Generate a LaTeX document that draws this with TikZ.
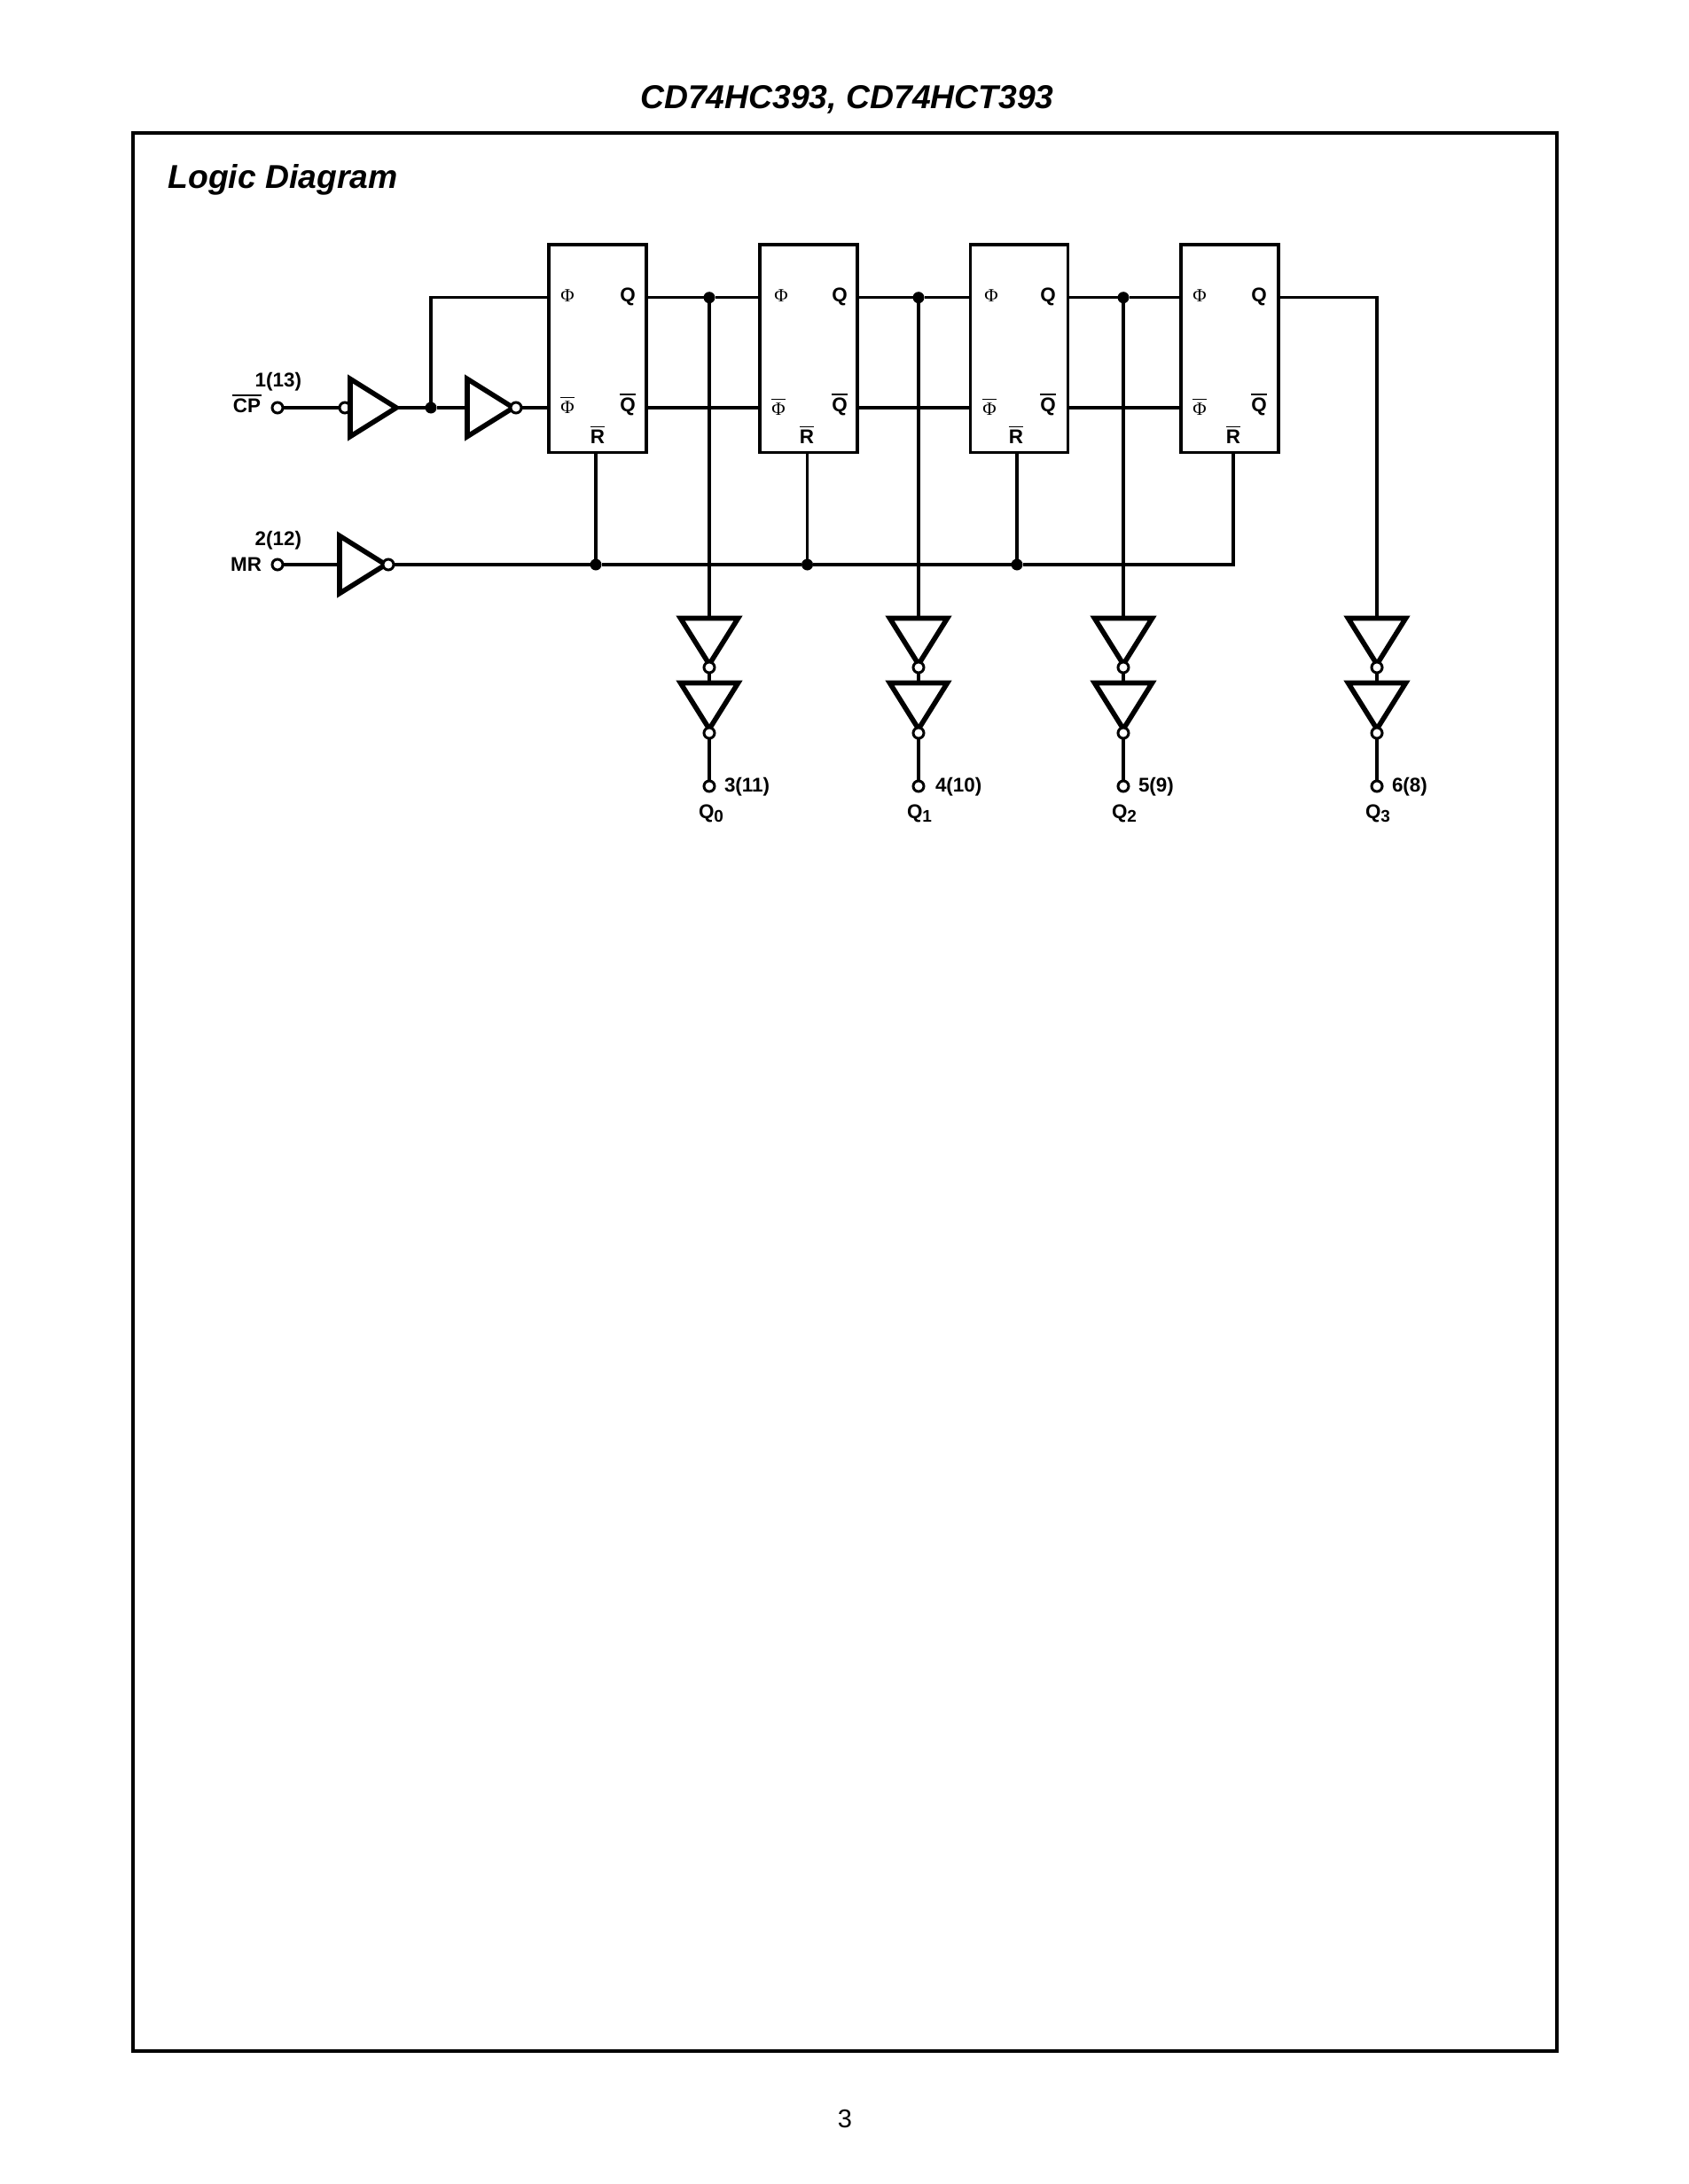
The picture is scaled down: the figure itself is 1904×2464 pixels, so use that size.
\documentclass[tikz,border=0pt]{standalone}
\usepackage{fontspec}
\setmainfont{Liberation Sans}
\newfontfamily\phifont{Liberation Serif}
\usetikzlibrary{shapes.geometric}
\newcommand{\barred}[2][0pt]{\vbox{\hrule height 1.2pt\kern 2.8pt\hbox{\kern#1#2\kern#1}}}
\newcommand{\Qsub}[1]{Q\raisebox{-4pt}{\fontsize{19}{20}\selectfont #1}}
\tikzset{
  x=1pt,y=-1pt,
  every node/.style={inner sep=0pt,outer sep=0pt},
  frame/.style={draw,line width=3.2pt},
  wire/.style={line width=3.3pt,line cap=butt,line join=miter},
  ff/.style={draw,line width=3.4pt,fill=white,rectangle,minimum width=110pt,minimum height=234.5pt},
  gateR/.style={draw,line width=5.6pt,fill=white,isosceles triangle,isosceles triangle stretches,minimum height=52pt,minimum width=65pt,anchor=apex,line join=miter},
  gateD/.style={gateR,shape border rotate=-90},
  bub/.style={circle,draw,fill=white,line width=3pt,minimum size=12pt},
  dot/.style={circle,fill=black,minimum size=13pt},
  lbl/.style={font=\fontsize{22.4}{24}\selectfont\bfseries,anchor=base},
  phi/.style={font=\fontsize{21}{24}\selectfont\phifont,anchor=base},
}
\begin{document}
\begin{tikzpicture}
\useasboundingbox (0,0) rectangle (1904,2464);
\node[frame,rectangle,minimum width=1606pt,minimum height=2164pt,anchor=north west] (frame) at (150,150) {};
\node[anchor=base,font=\fontsize{37.3}{40}\selectfont\bfseries\itshape] (title) at (955.5,123) {CD74HC393, CD74HCT393};
\node[anchor=base west,font=\fontsize{37.3}{40}\selectfont\bfseries\itshape] (ld) at (189.5,213) {Logic Diagram};
\node[anchor=base,font=\fontsize{29}{32}\selectfont] (pg) at (953,2400) {3};

% flip-flops
\node[ff,anchor=north west] (b1) at (619,276) {};
\node[ff,anchor=north west] (b2) at (857,276) {};
\node[ff,anchor=north west] (b3) at (1094.5,276) {};
\node[ff,anchor=north west] (b4) at (1332,276) {};
% box texts
\node[phi] (p1) at (640,341) {Φ};
\node[phi] (p2) at (881,341) {Φ};
\node[phi] (p3) at (1118,341) {Φ};
\node[phi] (p4) at (1353,341) {Φ};
\node[phi] (n1) at (640,466) {\barred{Φ}};
\node[phi] (n2) at (878,468) {\barred{Φ}};
\node[phi] (n3) at (1116,468) {\barred{Φ}};
\node[phi] (n4) at (1353,468) {\barred{Φ}};
\node[lbl] (q1) at (708,341) {Q};
\node[lbl] (q2) at (947,341) {Q};
\node[lbl] (q3) at (1182,341) {Q};
\node[lbl] (q4) at (1420,341) {Q};
\node[lbl] (k1) at (708,464) {\barred{Q}};
\node[lbl] (k2) at (947,464) {\barred{Q}};
\node[lbl] (k3) at (1182,464) {\barred{Q}};
\node[lbl] (k4) at (1420,464) {\barred{Q}};
\node[lbl] (r1) at (674,500) {\barred{R}};
\node[lbl] (r2) at (910,500) {\barred{R}};
\node[lbl] (r3) at (1146,500) {\barred{R}};
\node[lbl] (r4) at (1391,500) {\barred{R}};

% input section
\node[bub] (cp) at (313,460) {};
\node[bub] (cpb) at (389,460) {};
\node[gateR] (g1) at (447,460) {};
\node[dot] (d0) at (486,460) {};
\node[gateR] (g2) at (579,460) {};
\node[bub] (g2b) at (582,460) {};
\node[bub] (mr) at (313,637) {};
\node[gateR] (g3) at (435,637) {};
\node[bub] (g3b) at (438,637) {};
\node[dot] (j1) at (672,637) {};
\node[dot] (j2) at (910.5,637) {};
\node[dot] (j3) at (1147,637) {};
\coordinate (jend) at (1391,637);
\coordinate (top0) at (486,335.7);
\node[lbl,anchor=base east] (cpl) at (295,465) {\barred[1pt]{CP}};
\node[lbl,anchor=base east] (mrl) at (295,644) {MR};
\node[lbl,anchor=base east] (pin1) at (340,436) {1(13)};
\node[lbl,anchor=base east] (pin2) at (340,615) {2(12)};

% output columns
\foreach \n/\x/\pin/\lx/\qx/\qi in {1/800/3(11)/817/788/0,2/1036/4(10)/1055/1023/1,3/1267/5(9)/1284/1254/2,4/1553/6(8)/1570/1540/3}{
  \node[gateD] (ga\n) at (\x,749.5) {};
  \node[bub] (ba\n) at (\x,753) {};
  \node[gateD] (gb\n) at (\x,822.5) {};
  \node[bub] (bb\n) at (\x,827) {};
  \node[bub] (o\n) at (\x,887) {};
  \node[lbl,anchor=base west] (pl\n) at (\lx,893) {\pin};
  \node[lbl,anchor=base west] (ql\n) at (\qx,923) {\Qsub{\qi}};
}
\node[dot] (t1) at (800,335.7) {};
\node[dot] (t2) at (1036,335.7) {};
\node[dot] (t3) at (1267,335.7) {};
\coordinate (t4) at (1553,335.7);

% wires
\begin{scope}[wire]
\draw (cp) -- (cpb);
\draw (g1.apex) -- (d0);
\draw (d0) -- (g2.lower side);
\draw (g2b) -- (b1.west |- g2b);
\draw (d0) -- (top0) -- (b1.west |- top0);
\draw (mr) -- (g3.lower side);
\draw (g3b) -- (j1);
\draw (j1) -- (j2);
\draw (j2) -- (j3);
\draw (j3) -- (jend) -- (b4.south -| jend);
\draw (j1) -- (b1.south -| j1);
\draw (j2) -- (b2.south -| j2);
\draw (j3) -- (b3.south -| j3);
\draw (b1.east |- t1) -- (t1);
\draw (t1) -- (b2.west |- t1);
\draw (b2.east |- t2) -- (t2);
\draw (t2) -- (b3.west |- t2);
\draw (b3.east |- t3) -- (t3);
\draw (t3) -- (b4.west |- t3);
\draw (b4.east |- t4) -- (t4) -- (ga4.lower side);
\draw (b1.east |- g2b) -- (b2.west |- g2b);
\draw (b2.east |- g2b) -- (b3.west |- g2b);
\draw (b3.east |- g2b) -- (b4.west |- g2b);
\foreach \n in {1,2,3}{\draw (t\n) -- (ga\n.lower side);}
\foreach \n in {1,2,3,4}{
  \draw (ba\n) -- (gb\n.lower side);
  \draw (bb\n) -- (o\n);
}
\end{scope}
\end{tikzpicture}
\end{document}
